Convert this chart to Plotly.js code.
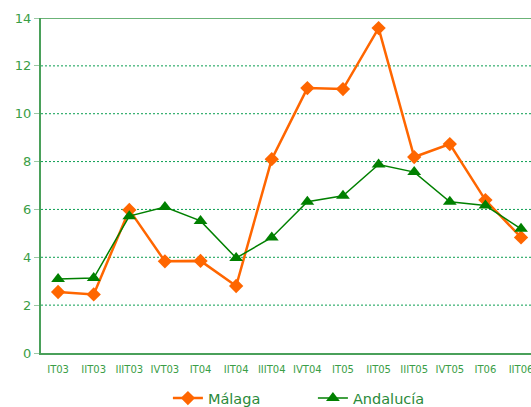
<!DOCTYPE html>
<html>
<head>
<meta charset="utf-8">
<script src="https://cdn.plot.ly/plotly-3.0.1.min.js"></script>
<style>html,body{margin:0;padding:0;background:#fff;}#chart{width:531px;height:407px;}</style>
</head>
<body>
<div id="chart"></div>
<script>
const categories = ["IT03","IIT03","IIIT03","IVT03","IT04","IIT04","IIIT04","IVT04","IT05","IIT05","IIIT05","IVT05","IT06","IIT06"];
const malaga = [2.55, 2.45, 5.98, 3.83, 3.85, 2.80, 8.10, 11.07, 11.03, 13.58, 8.19, 8.73, 6.39, 4.83];
const andalucia = [3.09, 3.13, 5.72, 6.10, 5.52, 3.97, 4.83, 6.32, 6.57, 7.88, 7.56, 6.32, 6.16, 5.19];
const yTicks = [0, 2, 4, 6, 8, 10, 12, 14];

const green = "#3a9e46";
const traces = [
  {x: categories, y: malaga, name: "Málaga", type: "scatter", mode: "lines+markers",
   line: {color: "#ff6600", width: 2.5}, marker: {symbol: "diamond", size: 11, color: "#ff6600"}},
  {x: categories, y: andalucia, name: "Andalucía", type: "scatter", mode: "lines+markers",
   line: {color: "#008000", width: 1.5}, marker: {symbol: "triangle-up", size: 12, color: "#008000"}}
];
const gridShapes = yTicks.filter(v => v > 0 && v < 14).map(v => ({
  type: "line", xref: "paper", yref: "y", x0: 0, x1: 1, y0: v, y1: v, layer: "below",
  line: {color: "#0a9e50", width: 1, dash: "2px,2px"}
}));
const layout = {
  width: 531, height: 407,
  margin: {l: 41, r: 0, t: 18, b: 54, autoexpand: false},
  paper_bgcolor: "#fff", plot_bgcolor: "#fff",
  font: {family: "DejaVu Sans, Verdana, sans-serif", color: green},
  showlegend: true,
  legend: {orientation: "h", x: 0.259, xanchor: "left", y: -0.087, yanchor: "top",
           font: {size: 14.5, color: "#2a8a3a"}, itemwidth: 30, entrywidth: 100, entrywidthmode: "pixels"},
  xaxis: {type: "category", range: [-0.48, 13.28], showgrid: false, automargin: false,
          showline: true, linecolor: "#4aa05a", linewidth: 2, mirror: false,
          ticks: "", ticklabelstandoff: 6, tickfont: {size: 10, color: green}, tickangle: 0, zeroline: false},
  yaxis: {range: [0, 14], tickvals: yTicks, ticktext: yTicks.map(String), automargin: false,
          showgrid: false,
          showline: true, linecolor: "#4aa05a", linewidth: 2,
          ticks: "outside", ticklen: 5, tickcolor: "#9ac9a4", tickfont: {size: 13, color: green},
          zeroline: false},
  shapes: gridShapes.concat([{type: "line", xref: "paper", yref: "y", x0: 0, x1: 1, y0: 14, y1: 14,
            line: {color: "#3a9a4a", width: 1.5}}])
};
Plotly.newPlot("chart", traces, layout, {displayModeBar: false, staticPlot: true});
</script>
</body>
</html>
